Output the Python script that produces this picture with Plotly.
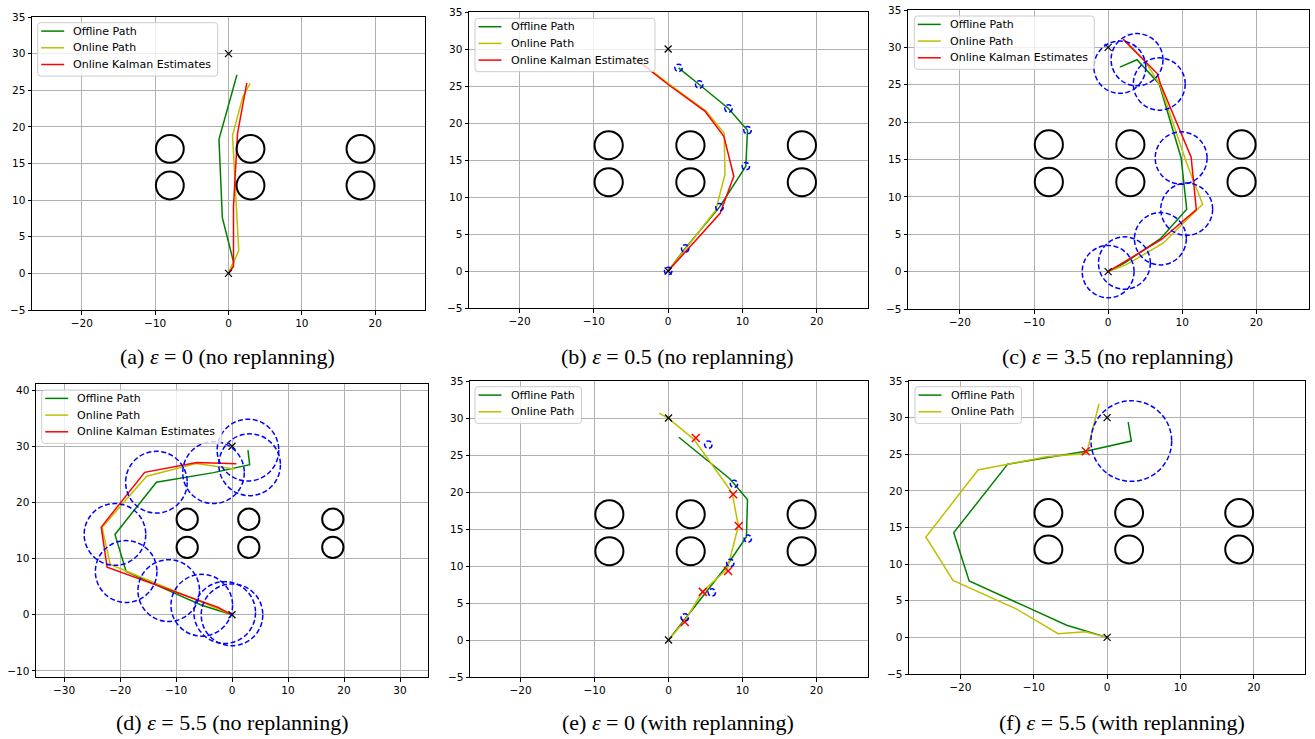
import plotly.graph_objects as go

W, H = 1315, 739

# ---------------- shared data ----------------
obs_x = [-8, 3, 18, -8, 3, 18]
obs_y = [17, 17, 17, 12, 12, 12]
obs_r = 1.9

end_x = [0, 0]
end_y = [0, 30]

# ---------------- (a) eps = 0, no replanning ----------------
a_off_x = [0.0, 0.7, -0.84, -1.3, 1.15]
a_off_y = [0.0, 1.5, 7.6, 18.3, 27.1]
a_on_x = [0.0, 1.4, 0.55, 1.95, 2.95]
a_on_y = [0.0, 3.1, 18.8, 24.1, 25.95]
a_kal_x = [0.0, 0.68, 0.68, 1.23, 2.5]
a_kal_y = [0.0, 0.95, 9.1, 19.1, 26.0]

# ---------------- (b) eps = 0.5 ----------------
b_off_x = [0.0, 2.29, 6.91, 10.46, 10.68, 8.12, 4.18, 1.40]
b_off_y = [0.0, 3.04, 8.63, 14.17, 19.03, 21.96, 25.2, 27.45]
b_on_x = [0.0, 6.4, 7.65, 7.55, 5.1, 0.0, -4.6]
b_on_y = [0.0, 8.2, 13.05, 18.6, 21.6, 25.35, 28.9]
b_kal_x = [0.0, 7.0, 8.84, 7.5, 4.94, 0.0, -4.6]
b_kal_y = [0.0, 7.8, 12.8, 18.2, 21.6, 25.2, 28.8]
b_eps = 0.5

# ---------------- (c) eps = 3.5 ----------------
c_off_x = [0.0, 2.2, 7.05, 10.6, 9.85, 6.9, 3.9, 1.58]
c_off_y = [0.0, 1.15, 4.4, 8.35, 15.2, 25.1, 28.35, 27.35]
c_on_x = [0.0, 2.4, 7.4, 12.75, 10.6, 7.0, 5.0, 2.1]
c_on_y = [0.0, 0.9, 3.8, 9.0, 14.5, 25.0, 28.1, 31.0]
c_kal_x = [0.0, 7.2, 11.9, 11.2, 7.1, 6.62, 2.03]
c_kal_y = [0.0, 4.3, 8.3, 15.3, 25.0, 26.5, 31.1]
c_eps = 3.5

# ---------------- (d) eps = 5.5 ----------------
d_off_x = [0.0, -1.3, -5.4, -11.3, -18.9, -20.9, -13.5, -3.3, 3.15, 2.85]
d_off_y = [0.0, 0.4, 1.7, 4.3, 7.7, 14.3, 23.6, 25.3, 26.7, 29.3]
d_on_x = [0.0, -2.5, -21.75, -23.2, -15.25, -6.4, 0.48]
d_on_y = [0.0, 1.05, 8.95, 15.55, 24.65, 26.9, 25.95]
d_kal_x = [0.0, -2.45, -22.3, -23.35, -15.6, -6.3, 0.78]
d_kal_y = [0.0, 1.3, 8.45, 15.6, 25.35, 27.1, 26.9]
d_eps = 5.5

# ---------------- (e) eps = 0, with replanning ----------------
e_off_x = [0.0, 7.85, 10.54, 10.68, 8.29, 1.40]
e_off_y = [0.0, 10.0, 13.95, 18.97, 21.8, 27.4]
e_on_x = [0.0, 2.2, 4.65, 7.95, 9.45, 8.6, 3.4, 0.0, -1.26]
e_on_y = [0.0, 2.6, 6.6, 9.6, 15.4, 19.9, 27.15, 29.95, 30.65]
e_cross_x = [2.2, 4.64, 8.06, 9.5, 8.74, 3.69]
e_cross_y = [2.42, 6.5, 9.33, 15.4, 19.7, 27.3]
e_circ_x = [2.2, 5.85, 8.35, 10.72, 8.85, 5.38]
e_circ_y = [3.05, 6.43, 10.42, 13.7, 21.1, 26.4]
e_eps_r = 0.5

# ---------------- (f) eps = 5.5, with replanning ----------------
f_off_x = [0.0, -1.3, -5.5, -11.3, -18.8, -20.9, -13.55, -2.9, 3.3, 2.87]
f_off_y = [0.0, 0.4, 1.65, 4.3, 7.7, 14.3, 23.65, 25.4, 26.8, 29.4]
f_on_x = [0.0, -2.95, -6.68, -12.4, -21.0, -24.7, -17.6, -8.3, -2.9, -2.6, -1.1]
f_on_y = [0.0, 0.77, 0.5, 3.9, 7.77, 13.7, 22.85, 24.65, 25.1, 25.9, 31.9]
f_cross_x = [-2.9]
f_cross_y = [25.4]
f_circ_x = [3.3]
f_circ_y = [26.8]
f_eps = 5.5

GREEN = "#008000"
YELLOW = "#bfbf00"
RED = "#ff0000"
BLUE = "#0000ff"

panels = [
    dict(xd=(32, 425), yd=(17, 310), xr=[-26.8, 26.8], yr=[-5, 35],
         xt=[-20, -10, 0, 10, 20], yt=list(range(-5, 36, 5)),
         leg=(37.7, 22.7), cap=(227, 356),
         caption="(a) <i>ε</i> = 0 (no replanning)"),
    dict(xd=(469, 868), yd=(12, 308), xr=[-26.8, 26.9], yr=[-5, 35],
         xt=[-20, -10, 0, 10, 20], yt=list(range(-5, 36, 5)),
         leg=(475, 18.3), cap=(677, 356),
         caption="(b) <i>ε</i> = 0.5 (no replanning)"),
    dict(xd=(908, 1309), yd=(10, 309), xr=[-27.0, 27.1], yr=[-5, 35],
         xt=[-20, -10, 0, 10, 20], yt=list(range(-5, 36, 5)),
         leg=(914.3, 16), cap=(1117, 356),
         caption="(c) <i>ε</i> = 3.5 (no replanning)"),
    dict(xd=(36, 428), yd=(384, 677), xr=[-35, 35], yr=[-11.07, 41.07],
         xt=[-30, -20, -10, 0, 10, 20, 30], yt=[-10, 0, 10, 20, 30, 40],
         leg=(41.7, 390), cap=(232, 722),
         caption="(d) <i>ε</i> = 5.5 (no replanning)"),
    dict(xd=(470, 868), yd=(381, 677), xr=[-26.85, 26.98], yr=[-5, 35],
         xt=[-20, -10, 0, 10, 20], yt=list(range(-5, 36, 5)),
         leg=(475, 386.7), cap=(678, 722),
         caption="(e) <i>ε</i> = 0 (with replanning)"),
    dict(xd=(909, 1305), yd=(381, 674), xr=[-27.0, 26.97], yr=[-5, 35],
         xt=[-20, -10, 0, 10, 20], yt=list(range(-5, 36, 5)),
         leg=(915, 386.7), cap=(1122, 722),
         caption="(f) <i>ε</i> = 5.5 (with replanning)"),
]

paths = [
    [(a_off_x, a_off_y), (a_on_x, a_on_y), (a_kal_x, a_kal_y)],
    [(b_off_x, b_off_y), (b_on_x, b_on_y), (b_kal_x, b_kal_y)],
    [(c_off_x, c_off_y), (c_on_x, c_on_y), (c_kal_x, c_kal_y)],
    [(d_off_x, d_off_y), (d_on_x, d_on_y), (d_kal_x, d_kal_y)],
    [(e_off_x, e_off_y), (e_on_x, e_on_y), None],
    [(f_off_x, f_off_y), (f_on_x, f_on_y), None],
]

circles = [
    None,
    (b_off_x, b_off_y, b_eps),
    (c_off_x, c_off_y, c_eps),
    (d_off_x, d_off_y, d_eps),
    (e_circ_x, e_circ_y, e_eps_r),
    (f_circ_x, f_circ_y, f_eps),
]
crosses = [None, None, None, None, (e_cross_x, e_cross_y), (f_cross_x, f_cross_y)]

names = ["Offline Path", "Online Path", "Online Kalman Estimates"]
colors = [GREEN, YELLOW, RED]

fig = go.Figure()
shapes = []
annotations = []
layout = dict(
    width=W, height=H,
    margin=dict(l=0, r=0, t=0, b=0, pad=0, autoexpand=False),
    paper_bgcolor="white", plot_bgcolor="white",
    template="none", showlegend=False,
)


def minus(v):
    return str(v).replace("-", "\u2212")


def px(xp):
    return xp / W


def py(yp):
    return 1 - yp / H


def rounded_box(L, T, w, h, r=3.0):
    R, B = L + w, T + h
    pts = [
        f"M {px(L + r)},{py(T)}", f"L {px(R - r)},{py(T)}",
        f"Q {px(R)},{py(T)} {px(R)},{py(T + r)}", f"L {px(R)},{py(B - r)}",
        f"Q {px(R)},{py(B)} {px(R - r)},{py(B)}", f"L {px(L + r)},{py(B)}",
        f"Q {px(L)},{py(B)} {px(L)},{py(B - r)}", f"L {px(L)},{py(T + r)}",
        f"Q {px(L)},{py(T)} {px(L + r)},{py(T)}", "Z",
    ]
    return " ".join(pts)


for i, p in enumerate(panels):
    n = i + 1
    sfx = "" if n == 1 else str(n)
    xa, ya = "x" + sfx, "y" + sfx

    axis_common = dict(
        showline=True, linecolor="black", linewidth=1, mirror=True,
        ticks="outside", ticklen=3.5, tickwidth=1, tickcolor="black",
        showgrid=True, gridcolor="#b0b0b0", gridwidth=0.8, zeroline=False,
        tickfont=dict(family="DejaVu Sans", size=10.5, color="black"),
        fixedrange=True, automargin=False,
    )
    layout["xaxis" + sfx] = dict(
        axis_common, domain=[px(p["xd"][0]), px(p["xd"][1])],
        range=p["xr"], anchor=ya, tickvals=p["xt"],
        ticktext=[minus(v) for v in p["xt"]],
    )
    layout["yaxis" + sfx] = dict(
        axis_common, domain=[py(p["yd"][1]), py(p["yd"][0])],
        range=p["yr"], anchor=xa, tickvals=p["yt"],
        ticktext=[minus(v) for v in p["yt"]],
    )

    entries = []
    for k, pr in enumerate(paths[i]):
        if pr is None:
            continue
        entries.append(k)
        fig.add_trace(go.Scatter(
            x=pr[0], y=pr[1], mode="lines", name=names[k],
            line=dict(color=colors[k], width=1.5),
            xaxis=xa, yaxis=ya, hoverinfo="skip",
        ))

    if crosses[i] is not None:
        fig.add_trace(go.Scatter(
            x=crosses[i][0], y=crosses[i][1], mode="markers", showlegend=False,
            marker=dict(symbol="x-thin", size=8, color=RED,
                        line=dict(width=1.5, color=RED)),
            xaxis=xa, yaxis=ya, hoverinfo="skip",
        ))

    fig.add_trace(go.Scatter(
        x=end_x, y=end_y, mode="markers", showlegend=False,
        marker=dict(symbol="x-thin", size=7, color="black",
                    line=dict(width=1.2, color="black")),
        xaxis=xa, yaxis=ya, hoverinfo="skip",
    ))

    for cx, cy in zip(obs_x, obs_y):
        shapes.append(dict(
            type="circle", xref=xa, yref=ya,
            x0=cx - obs_r, x1=cx + obs_r, y0=cy - obs_r, y1=cy + obs_r,
            line=dict(color="black", width=2),
        ))

    if circles[i] is not None:
        cxs, cys, r = circles[i]
        for cx, cy in zip(cxs, cys):
            shapes.append(dict(
                type="circle", xref=xa, yref=ya,
                x0=cx - r, x1=cx + r, y0=cy - r, y1=cy + r,
                line=dict(color=BLUE, width=1.5, dash="5px,2.5px"),
            ))

    # legend (box, line samples, labels) in the matplotlib style
    L, T = p["leg"]
    nent = len(entries)
    bw = 180 if nent == 3 else 106.5
    bh = 16.7 * nent + 3.3
    shapes.append(dict(
        type="path", xref="paper", yref="paper", path=rounded_box(L, T, bw, bh),
        fillcolor="rgba(255,255,255,0.8)", line=dict(color="#cccccc", width=1),
        layer="above",
    ))
    for j, k in enumerate(entries):
        yy = T + 8.4 + 16.7 * j
        shapes.append(dict(
            type="line", xref="paper", yref="paper",
            x0=px(L + 3.5), x1=px(L + 26.5), y0=py(yy), y1=py(yy),
            line=dict(color=colors[k], width=1.5), layer="above",
        ))
        annotations.append(dict(
            text=names[k], x=px(L + 33.5), y=py(yy),
            xref="paper", yref="paper", xanchor="left", yanchor="middle",
            showarrow=False,
            font=dict(family="DejaVu Sans", size=11, color="black"),
        ))

    annotations.append(dict(
        text=p["caption"], x=px(p["cap"][0]), y=py(p["cap"][1]),
        xref="paper", yref="paper", xanchor="center", yanchor="middle",
        showarrow=False,
        font=dict(family="Liberation Serif", size=22, color="black"),
    ))

layout["shapes"] = shapes
layout["annotations"] = annotations
fig.update_layout(**layout)
fig.write_html(
    "out.html",
    config={"displayModeBar": False},
    post_script="document.body.style.margin='0';document.body.style.overflow='hidden';",
)
